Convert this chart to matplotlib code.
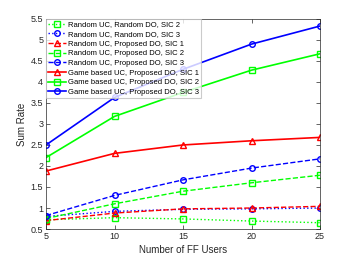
import matplotlib
matplotlib.use("Agg")
import matplotlib.pyplot as plt

plt.rcParams["font.family"] = ["Liberation Sans", "DejaVu Sans"]

x = [5, 10, 15, 20, 25]
labels = [
    "Random UC, Random DO, SIC 2",
    "Random UC, Random DO, SIC 3",
    "Random UC, Proposed DO, SIC 1",
    "Random UC, Proposed DO, SIC 2",
    "Random UC, Proposed DO, SIC 3",
    "Game based UC, Proposed DO, SIC 1",
    "Game based UC, Proposed DO, SIC 2",
    "Game based UC, Proposed DO, SIC 3",
]
rr_sic2 = [0.72, 0.77, 0.74, 0.69, 0.65]
rr_sic3 = [0.80, 0.92, 0.97, 0.98, 1.00]
rp_sic1 = [0.70, 0.88, 0.98, 1.00, 1.04]
rp_sic2 = [0.75, 1.10, 1.40, 1.60, 1.78]
rp_sic3 = [0.82, 1.30, 1.67, 1.95, 2.17]
gp_sic1 = [1.88, 2.30, 2.50, 2.60, 2.68]
gp_sic2 = [2.20, 3.18, 3.75, 4.28, 4.67]
gp_sic3 = [2.50, 3.63, 4.30, 4.90, 5.33]

series = [rr_sic2, rr_sic3, rp_sic1, rp_sic2, rp_sic3, gp_sic1, gp_sic2, gp_sic3]
colors = ["#00ff00", "#0000ff", "#ff0000", "#00ff00", "#0000ff", "#ff0000", "#00ff00", "#0000ff"]
styles = [":", ":", "--", "--", "--", "-", "-", "-"]
markers = ["s", "o", "^", "s", "o", "^", "s", "o"]
widths = [1.0, 1.0, 1.0, 1.0, 1.0, 1.2, 1.2, 1.2]

fig = plt.figure(figsize=(3.54, 2.66), dpi=100)
ax = fig.add_axes([0.130, 0.139, 0.774, 0.790])
for ys, c, ls, m, lw, lab in zip(series, colors, styles, markers, widths, labels):
    ax.plot(x, ys, color=c, linestyle=ls, marker=m, markersize=4, markerfacecolor="none",
            markeredgecolor=c, markeredgewidth=1.0, linewidth=lw, label=lab)

ax.set_xlim(5, 25)
ax.set_ylim(0.5, 5.5)
ax.set_xticks([5, 10, 15, 20, 25])
ax.set_yticks([0.5, 1, 1.5, 2, 2.5, 3, 3.5, 4, 4.5, 5, 5.5])
ax.set_yticklabels(["0.5", "1", "1.5", "2", "2.5", "3", "3.5", "4", "4.5", "5", "5.5"])
ax.tick_params(direction="in", top=True, right=True, labelsize=6.5, length=3, width=0.5,
               colors="#262626", pad=2)
for s in ax.spines.values():
    s.set_linewidth(0.5)
    s.set_color("#262626")
ax.set_xlabel("Number of FF Users", fontsize=7, color="#262626", labelpad=3)
ax.set_ylabel("Sum Rate", fontsize=7, color="#262626", labelpad=3)
leg = ax.legend(loc="upper left", fontsize=5.5, frameon=True, fancybox=False, borderaxespad=0,
                handlelength=2.3, handletextpad=0.3, labelspacing=0.3, borderpad=0.3)
leg.get_frame().set_edgecolor("#bfbfbf")
leg.get_frame().set_linewidth(0.8)
fig.savefig("out.png", dpi=100)
